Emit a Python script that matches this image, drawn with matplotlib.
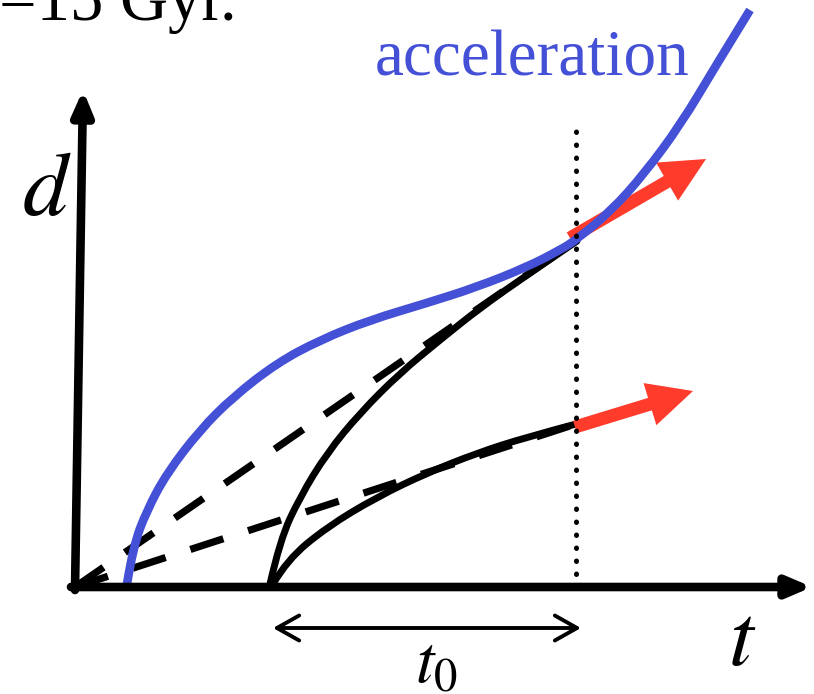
import matplotlib.pyplot as plt
import numpy as np
from matplotlib.path import Path
from matplotlib.patches import PathPatch

plt.rcParams['mathtext.fontset'] = 'stix'

# everything in (t, d) units, origin where the two axes meet (1 unit = 1 px)
blue_t = [52, 58, 72, 92, 125, 158, 202, 245, 295, 352, 402, 452, 485, 501,
          536, 569, 606, 640, 675]
blue_d = [3, 40, 77, 114, 157, 190, 224, 247, 267, 284, 300, 320, 337, 347,
          376, 413, 463, 520, 577]

upper_t = [195, 205, 225, 252, 285, 325, 365, 405, 452, 502]
upper_d = [3, 47, 90, 134, 174, 214, 247, 279, 312, 346]

lower_t = [198, 212, 252, 302, 352, 402, 452, 501]
lower_d = [3, 27, 60, 90, 114, 134, 150, 163]

dash_hi_t = [0, 501]
dash_hi_d = [0, 346]
dash_lo_t = [0, 501]
dash_lo_d = [0, 163]

t_now = 501          # today, dotted line
t_now_top = 465

# red arrows: tail -> tip
red_hi = [(495, 349), (631, 428)]
red_lo = [(500, 160), (618, 196)]

BLUE = '#4450d6'
RED = '#ff3b2b'


def smooth_path(ts, ds):
    pts = np.column_stack([ts, ds]).astype(float)
    verts = [pts[0]]
    codes = [Path.MOVETO]
    for i in range(1, len(pts) - 1):
        verts += [pts[i], (pts[i] + pts[i + 1]) / 2]
        codes += [Path.CURVE3, Path.CURVE3]
    verts[-1] = pts[-1]
    return Path(verts, codes)


fig = plt.figure(figsize=(8.14, 6.94), dpi=100)
ax = fig.add_axes([0, 0, 1, 1])
ax.set_xlim(-75, 739)
ax.set_ylim(-107, 587)
ax.axis('off')

# dashed straight lines (constant expansion)
ax.plot(dash_hi_t, dash_hi_d, color='black', lw=5.2, ls=(0, (4.8, 3.6)), zorder=2)
ax.plot(dash_lo_t, dash_lo_d, color='black', lw=5.2, ls=(0, (4.8, 3.6)), zorder=2)

# decelerating solid curves
for ts, ds in [(upper_t, upper_d), (lower_t, lower_d)]:
    ax.add_patch(PathPatch(smooth_path(ts, ds), fc='none', ec='black',
                           lw=5.0, capstyle='round', zorder=3))

# red velocity arrows
for (tail, tip) in [red_hi, red_lo]:
    ax.arrow(tail[0], tail[1], tip[0] - tail[0], tip[1] - tail[1],
             width=13, head_width=44, head_length=45,
             length_includes_head=True, fc=RED, ec='none', zorder=4)

# accelerating curve
ax.add_patch(PathPatch(smooth_path(blue_t, blue_d), fc='none', ec=BLUE,
                       lw=6.2, zorder=5))

# dotted "now" line
ax.plot([t_now, t_now], [0, t_now_top], color='black', lw=3.6,
        ls=(0, (0.1, 2.5)), dash_capstyle='round', zorder=6)

# axes with arrow heads
ax.annotate('', xy=(8, 497), xytext=(0, -3),
            arrowprops=dict(arrowstyle='-|>,head_length=0.7,head_width=0.3',
                            lw=6.2, color='black', mutation_scale=20,
                            shrinkA=0, shrinkB=0), zorder=7)
ax.annotate('', xy=(737, 0), xytext=(-4, 0),
            arrowprops=dict(arrowstyle='-|>,head_length=0.7,head_width=0.3',
                            lw=6.2, color='black', mutation_scale=20,
                            shrinkA=0, shrinkB=0), zorder=7)

# t0 span
ax.annotate('', xy=(506, -41), xytext=(198, -41),
            arrowprops=dict(arrowstyle='<->,head_length=0.8,head_width=0.45',
                            lw=2.8, color='black', mutation_scale=20,
                            shrinkA=0, shrinkB=0))

# labels
ax.text(-76, 567, '=15 Gyr.', family='Liberation Serif', fontsize=48,
        va='baseline', ha='left', color='black')
ax.text(300, 512, 'acceleration', family='Liberation Serif', fontsize=47,
        va='baseline', ha='left', color=BLUE)
ax.text(-53, 372, '$d$', fontsize=65, va='baseline', ha='left')
ax.text(653, -78, '$t$', fontsize=64, va='baseline', ha='left')
ax.text(340, -95, '$t_0$', fontsize=48, va='baseline', ha='left')

fig.savefig('out.png', dpi=100)
